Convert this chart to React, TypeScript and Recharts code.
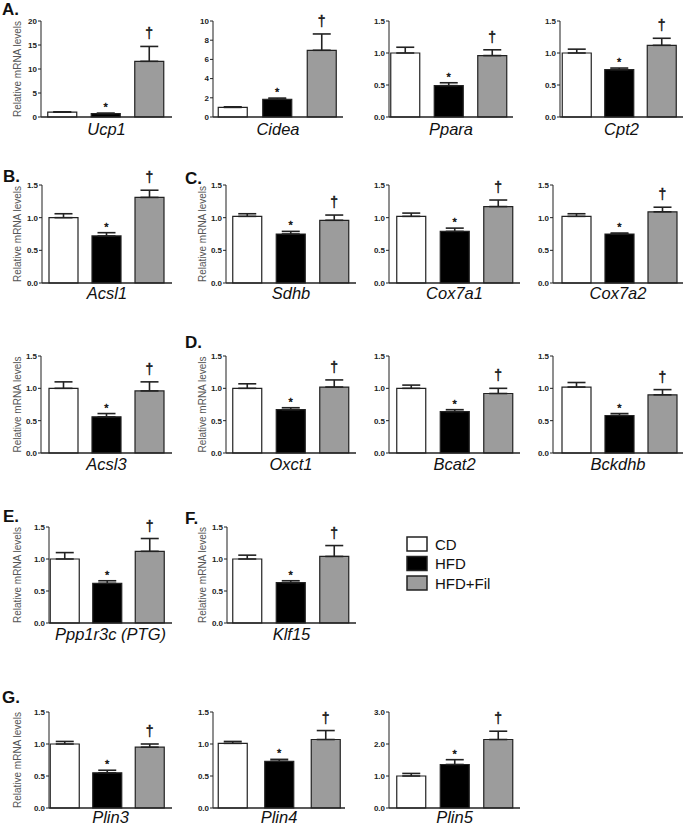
import React from "react";
import { BarChart, Bar, XAxis, YAxis, ErrorBar, Cell, LabelList } from "recharts";

// groups and significance marks (vs CD: *, vs HFD: †)
const groups = ["CD", "HFD", "HFD+Fil"];
const marks = ["", "*", "\u2020"];

// mean / SEM per gene, order CD, HFD, HFD+Fil
const ucp1 = [1.0, 0.72, 11.6];
const ucp1Sem = [0.08, 0.08, 3.1];
const cidea = [1.0, 1.85, 6.95];
const cideaSem = [0.06, 0.12, 1.7];
const ppara = [1.0, 0.49, 0.96];
const pparaSem = [0.09, 0.045, 0.09];
const cpt2 = [1.0, 0.74, 1.12];
const cpt2Sem = [0.06, 0.025, 0.11];
const acsl1 = [1.0, 0.72, 1.31];
const acsl1Sem = [0.06, 0.05, 0.11];
const sdhb = [1.02, 0.75, 0.96];
const sdhbSem = [0.04, 0.04, 0.08];
const cox7a1 = [1.02, 0.79, 1.17];
const cox7a1Sem = [0.05, 0.05, 0.1];
const cox7a2 = [1.02, 0.75, 1.09];
const cox7a2Sem = [0.04, 0.015, 0.07];
const acsl3 = [1.0, 0.56, 0.96];
const acsl3Sem = [0.1, 0.05, 0.14];
const oxct1 = [1.0, 0.67, 1.02];
const oxct1Sem = [0.07, 0.03, 0.11];
const bcat2 = [1.0, 0.64, 0.92];
const bcat2Sem = [0.05, 0.03, 0.08];
const bckdhb = [1.02, 0.58, 0.9];
const bckdhbSem = [0.07, 0.03, 0.08];
const ppp1r3c = [1.0, 0.62, 1.12];
const ppp1r3cSem = [0.1, 0.04, 0.2];
const klf15 = [1.0, 0.63, 1.04];
const klf15Sem = [0.06, 0.03, 0.17];
const plin3 = [1.0, 0.55, 0.95];
const plin3Sem = [0.04, 0.04, 0.05];
const plin4 = [1.01, 0.73, 1.07];
const plin4Sem = [0.03, 0.03, 0.14];
const plin5 = [1.0, 1.36, 2.14];
const plin5Sem = [0.08, 0.15, 0.26];

// y tick values
const ticksUcp1 = [0, 5, 10, 15, 20];
const ticksCidea = [0, 2, 4, 6, 8, 10];
const ticksFold = [0, 0.5, 1.0, 1.5];
const ticksPlin5 = [0, 1.0, 2.0, 3.0];

const FONT = '"Liberation Sans", Arial, Helvetica, sans-serif';
const INK = "#222";
const fills = ["#ffffff", "#000000", "#9c9c9c"];
const BAR = 29;
const YW = 40;
const MT = 24;
const XH = 30;

// layout: ax = y axis x, end = x axis end, b0/b2 = left edge of first/last bar,
// top/zero = y of top tick and of 0, lab = gene label baseline below zero
const panels = [
  { gene: "Ucp1", mean: ucp1, sem: ucp1Sem, ticks: ticksUcp1, digits: 0, ax: 41, end: 172, b0: 48, b2: 135, top: 21, zero: 117, lab: 18, yLabel: 17 },
  { gene: "Cidea", mean: cidea, sem: cideaSem, ticks: ticksCidea, digits: 0, ax: 213, end: 343, b0: 218, b2: 307, top: 21, zero: 117, lab: 18 },
  { gene: "Ppara", mean: ppara, sem: pparaSem, ticks: ticksFold, digits: 1, ax: 389, end: 513, b0: 391, b2: 478, top: 21, zero: 117, lab: 18 },
  { gene: "Cpt2", mean: cpt2, sem: cpt2Sem, ticks: ticksFold, digits: 1, ax: 560, end: 683, b0: 562, b2: 647, top: 21, zero: 117, lab: 18 },

  { gene: "Acsl1", mean: acsl1, sem: acsl1Sem, ticks: ticksFold, digits: 1, ax: 42, end: 172, b0: 49, b2: 135, top: 185, zero: 283, lab: 15.5, yLabel: 17 },
  { gene: "Sdhb", mean: sdhb, sem: sdhbSem, ticks: ticksFold, digits: 1, ax: 226, end: 356, b0: 233, b2: 320, top: 185, zero: 283, lab: 15.5, yLabel: 202 },
  { gene: "Cox7a1", mean: cox7a1, sem: cox7a1Sem, ticks: ticksFold, digits: 1, ax: 389, end: 520, b0: 397, b2: 484, top: 185, zero: 283, lab: 15.5 },
  { gene: "Cox7a2", mean: cox7a2, sem: cox7a2Sem, ticks: ticksFold, digits: 1, ax: 553, end: 683, b0: 562, b2: 648, top: 185, zero: 283, lab: 15.5 },

  { gene: "Acsl3", mean: acsl3, sem: acsl3Sem, ticks: ticksFold, digits: 1, ax: 41, end: 172, b0: 49, b2: 135, top: 356, zero: 453, lab: 17, yLabel: 17 },
  { gene: "Oxct1", mean: oxct1, sem: oxct1Sem, ticks: ticksFold, digits: 1, ax: 226, end: 356, b0: 233, b2: 320, top: 356, zero: 453, lab: 17, yLabel: 202 },
  { gene: "Bcat2", mean: bcat2, sem: bcat2Sem, ticks: ticksFold, digits: 1, ax: 389, end: 520, b0: 397, b2: 484, top: 356, zero: 453, lab: 17 },
  { gene: "Bckdhb", mean: bckdhb, sem: bckdhbSem, ticks: ticksFold, digits: 1, ax: 553, end: 683, b0: 562, b2: 648, top: 356, zero: 453, lab: 17 },

  { gene: "Ppp1r3c (PTG)", mean: ppp1r3c, sem: ppp1r3cSem, ticks: ticksFold, digits: 1, ax: 49, end: 172, b0: 50, b2: 135, top: 527, zero: 623, lab: 17, yLabel: 17 },
  { gene: "Klf15", mean: klf15, sem: klf15Sem, ticks: ticksFold, digits: 1, ax: 227, end: 356, b0: 233, b2: 320, top: 527, zero: 623, lab: 17, yLabel: 202 },

  { gene: "Plin3", mean: plin3, sem: plin3Sem, ticks: ticksFold, digits: 1, ax: 49, end: 172, b0: 50, b2: 135, top: 712, zero: 808, lab: 15, yLabel: 17 },
  { gene: "Plin4", mean: plin4, sem: plin4Sem, ticks: ticksFold, digits: 1, ax: 213, end: 345, b0: 218, b2: 311, top: 712, zero: 808, lab: 15 },
  { gene: "Plin5", mean: plin5, sem: plin5Sem, ticks: ticksPlin5, digits: 1, ax: 389, end: 520, b0: 397, b2: 484, top: 712, zero: 808, lab: 15 },
];

const letters = [
  { t: "A.", x: 2, y: 15 },
  { t: "B.", x: 3, y: 182 },
  { t: "C.", x: 185, y: 184 },
  { t: "D.", x: 185, y: 348 },
  { t: "E.", x: 3, y: 522 },
  { t: "F.", x: 185, y: 524 },
  { t: "G.", x: 2, y: 703 },
];

const GenePanel = ({ p }: { p: any }) => {
  const band = (p.b2 - p.b0) / 2;
  const start = p.b0 - (band - BAR) / 2;
  const padL = start - p.ax;
  const padR = p.end - (start + 3 * band);
  const plotH = p.zero - p.top;
  const left = p.ax - YW;
  const w = YW + (p.end - p.ax) + 2;
  const h = MT + plotH + XH;
  const data = groups.map((g, i) => ({ group: g, mean: p.mean[i], sem: [0, p.sem[i]] }));

  const geneLabel = () => (
    <text
      x={(p.ax + p.end) / 2 - left}
      y={MT + plotH + p.lab}
      textAnchor="middle"
      fontFamily={FONT}
      fontStyle="italic"
      fontSize={16.5}
      fill="#111"
    >
      {p.gene}
    </text>
  );

  const yLabel = () => {
    const cx = p.yLabel - left;
    const cy = MT + plotH / 2;
    return (
      <text
        x={cx}
        y={cy}
        transform={`rotate(-90 ${cx} ${cy})`}
        textAnchor="middle"
        dominantBaseline="central"
        fontFamily={FONT}
        fontSize={10}
        fill="#555"
      >
        Relative mRNA levels
      </text>
    );
  };

  const renderMark = (lp: any) => {
    const i = lp.index ?? p.mean.indexOf(lp.value);
    if (i == null || i < 0 || !marks[i]) return null;
    const vb = lp.viewBox ?? lp;
    const top = Math.min(vb.y, vb.y + vb.height);
    const hh = Math.abs(vb.height);
    const errTop = top - (p.sem[i] / p.mean[i]) * hh;
    const cx = vb.x + vb.width / 2;
    const dagger = i === 2;
    return (
      <text
        x={cx}
        y={dagger ? errTop - 8 : errTop - 2}
        textAnchor="middle"
        fontFamily={FONT}
        fontSize={dagger ? 14 : 11}
        fill="#111"
        stroke="#111"
        strokeWidth={0.4}
      >
        {marks[i]}
      </text>
    );
  };

  return (
    <div style={{ position: "absolute", left, top: p.top - MT }}>
      <BarChart width={w} height={h} data={data} margin={{ top: MT, right: 2, bottom: 0, left: 0 }}>
        <XAxis
          dataKey="group"
          padding={{ left: padL, right: padR }}
          tick={false}
          tickLine={{ stroke: INK, strokeWidth: 1 }}
          tickSize={3}
          interval={0}
          axisLine={{ stroke: INK, strokeWidth: 1.4 }}
          height={XH}
          label={geneLabel}
        />
        <YAxis
          width={YW}
          type="number"
          domain={[0, p.ticks[p.ticks.length - 1]]}
          ticks={p.ticks}
          interval={0}
          tickFormatter={(v: number) => v.toFixed(p.digits)}
          tick={{ fontSize: 8, fontWeight: "bold", fill: INK, fontFamily: FONT }}
          tickSize={3}
          tickMargin={1}
          tickLine={{ stroke: INK, strokeWidth: 1 }}
          axisLine={{ stroke: "#333", strokeWidth: 1.1 }}
          label={p.yLabel ? yLabel : undefined}
        />
        <Bar dataKey="mean" barSize={BAR} stroke={INK} strokeWidth={1.2} isAnimationActive={false}>
          {data.map((d, i) => (
            <Cell key={d.group} fill={fills[i]} />
          ))}
          <ErrorBar dataKey="sem" width={9} stroke={INK} strokeWidth={1.6} direction="y" isAnimationActive={false} />
          <LabelList dataKey="mean" content={renderMark} />
        </Bar>
      </BarChart>
    </div>
  );
};

const App = () => {
  return (
    <div
      style={{
        position: "absolute",
        left: 0,
        top: 0,
        width: 685,
        height: 828,
        overflow: "hidden",
        background: "#fff",
        fontFamily: FONT,
      }}
    >
      {panels.map((p) => (
        <GenePanel key={p.gene} p={p} />
      ))}
      <svg width={685} height={828} style={{ position: "absolute", left: 0, top: 0, pointerEvents: "none" }}>
        {letters.map((l) => (
          <text key={l.t} x={l.x} y={l.y} fontFamily={FONT} fontWeight="bold" fontSize={17} fill="#111">
            {l.t}
          </text>
        ))}
        {groups.map((g, i) => (
          <g key={g}>
            <rect x={407} y={537 + i * 19.5} width={20} height={14} fill={fills[i]} stroke={INK} strokeWidth={1.5} />
            <text x={435} y={549.5 + i * 19.5} fontFamily={FONT} fontSize={15} fill="#111">
              {g}
            </text>
          </g>
        ))}
      </svg>
    </div>
  );
};

export default App;
